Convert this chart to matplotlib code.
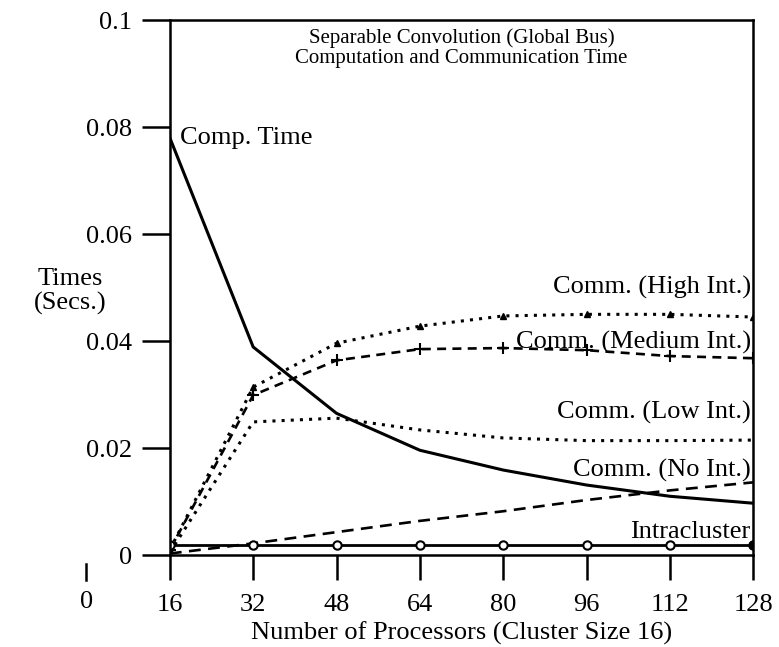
import matplotlib
matplotlib.use("Agg")
import matplotlib.pyplot as plt
import matplotlib.transforms as mtransforms

# data
procs = [16, 32, 48, 64, 80, 96, 112, 128]
comp_time = [0.078, 0.0389, 0.0265, 0.0196, 0.0159, 0.0131, 0.0110, 0.0097]
comm_high = [0.001, 0.0314, 0.0396, 0.0428, 0.0447, 0.0450, 0.0450, 0.0445]
comm_medium = [0.001, 0.0299, 0.0364, 0.0385, 0.0387, 0.0383, 0.0372, 0.0368]
comm_low = [0.0005, 0.0249, 0.0256, 0.0234, 0.0219, 0.0214, 0.0214, 0.0215]
comm_none = [0.0003, 0.0022, 0.0043, 0.0064, 0.0082, 0.0103, 0.0121, 0.0136]
intracluster = [0.0019, 0.0019, 0.0019, 0.0019, 0.0019, 0.0019, 0.0019, 0.0019]

x_ticks = [16, 32, 48, 64, 80, 96, 112, 128]
y_ticks = [0, 0.02, 0.04, 0.06, 0.08, 0.1]
y_tick_labels = ["0", "0.02", "0.04", "0.06", "0.08", "0.1"]

plt.rcParams['font.family'] = ['Liberation Serif', 'DejaVu Serif']

fig = plt.figure(figsize=(7.79, 6.47), dpi=100)
ax = fig.add_axes([0.218, 0.142, 0.749, 0.827])

# curves
ax.plot(procs, comp_time, 'k-', lw=2.2)
ax.plot(procs, comm_high, 'k', ls=(0, (1, 2)), lw=2.2, marker='^', ms=4)
ax.plot(procs, comm_medium, 'k', ls=(0, (3.4, 2.4)), lw=1.9, marker='+', ms=9, mew=1.5)
ax.plot(procs, comm_low, 'k', ls=(0, (1, 2)), lw=2.2)
ax.plot(procs, comm_none, 'k', ls=(0, (4.5, 2.8)), lw=1.9)
ax.plot(procs, intracluster, 'k-', lw=2, marker='o', ms=6, mfc='white', mew=1.5)
ax.plot(procs[-1:], intracluster[-1:], 'ko', ms=6)

ax.set_xlim(16, 128)
ax.set_ylim(0, 0.1)
ax.set_xticks(x_ticks)
ax.set_yticks(y_ticks)
ax.set_yticklabels(y_tick_labels)
ax.tick_params(axis='both', direction='out', length=20, width=1.8, labelsize=19)
ax.tick_params(axis='x', length=18, pad=10)
ax.tick_params(axis='y', pad=7)
for s in ax.spines.values():
    s.set_linewidth(1.8)

# line labels
ax.text(18, 0.078, "Comp. Time", fontsize=19, va='center', ha='left')
ax.text(127.5, 0.0500, "Comm. (High Int.)", fontsize=19, va='center', ha='right')
ax.text(127.5, 0.0398, "Comm. (Medium Int.)", fontsize=19, va='center', ha='right')
ax.text(127.5, 0.0267, "Comm. (Low Int.)", fontsize=19, va='center', ha='right')
ax.text(127.5, 0.0159, "Comm. (No Int.)", fontsize=19, va='center', ha='right')
ax.text(127.5, 0.0043, "Intracluster", fontsize=19, va='center', ha='right')

ax.text(0.5, 0.985, "Separable Convolution (Global Bus)\nComputation and Communication Time",
        transform=ax.transAxes, fontsize=15, ha='center', va='top', linespacing=1.1)

# stray origin tick at x = 0 below the axis
trans = mtransforms.blended_transform_factory(ax.transData, ax.transAxes)
ax.plot([0, 0], [-0.016, -0.047], color='k', lw=1.8, transform=trans, clip_on=False)
ax.text(0, -0.088, "0", fontsize=19, ha='center', va='center', transform=trans)

ax.set_xlabel("Number of Processors (Cluster Size 16)", fontsize=19, labelpad=4)
fig.text(0.09, 0.55, "Times\n(Secs.)", fontsize=19, ha='center', va='center', linespacing=1.1)

plt.savefig("out.png", dpi=100)
